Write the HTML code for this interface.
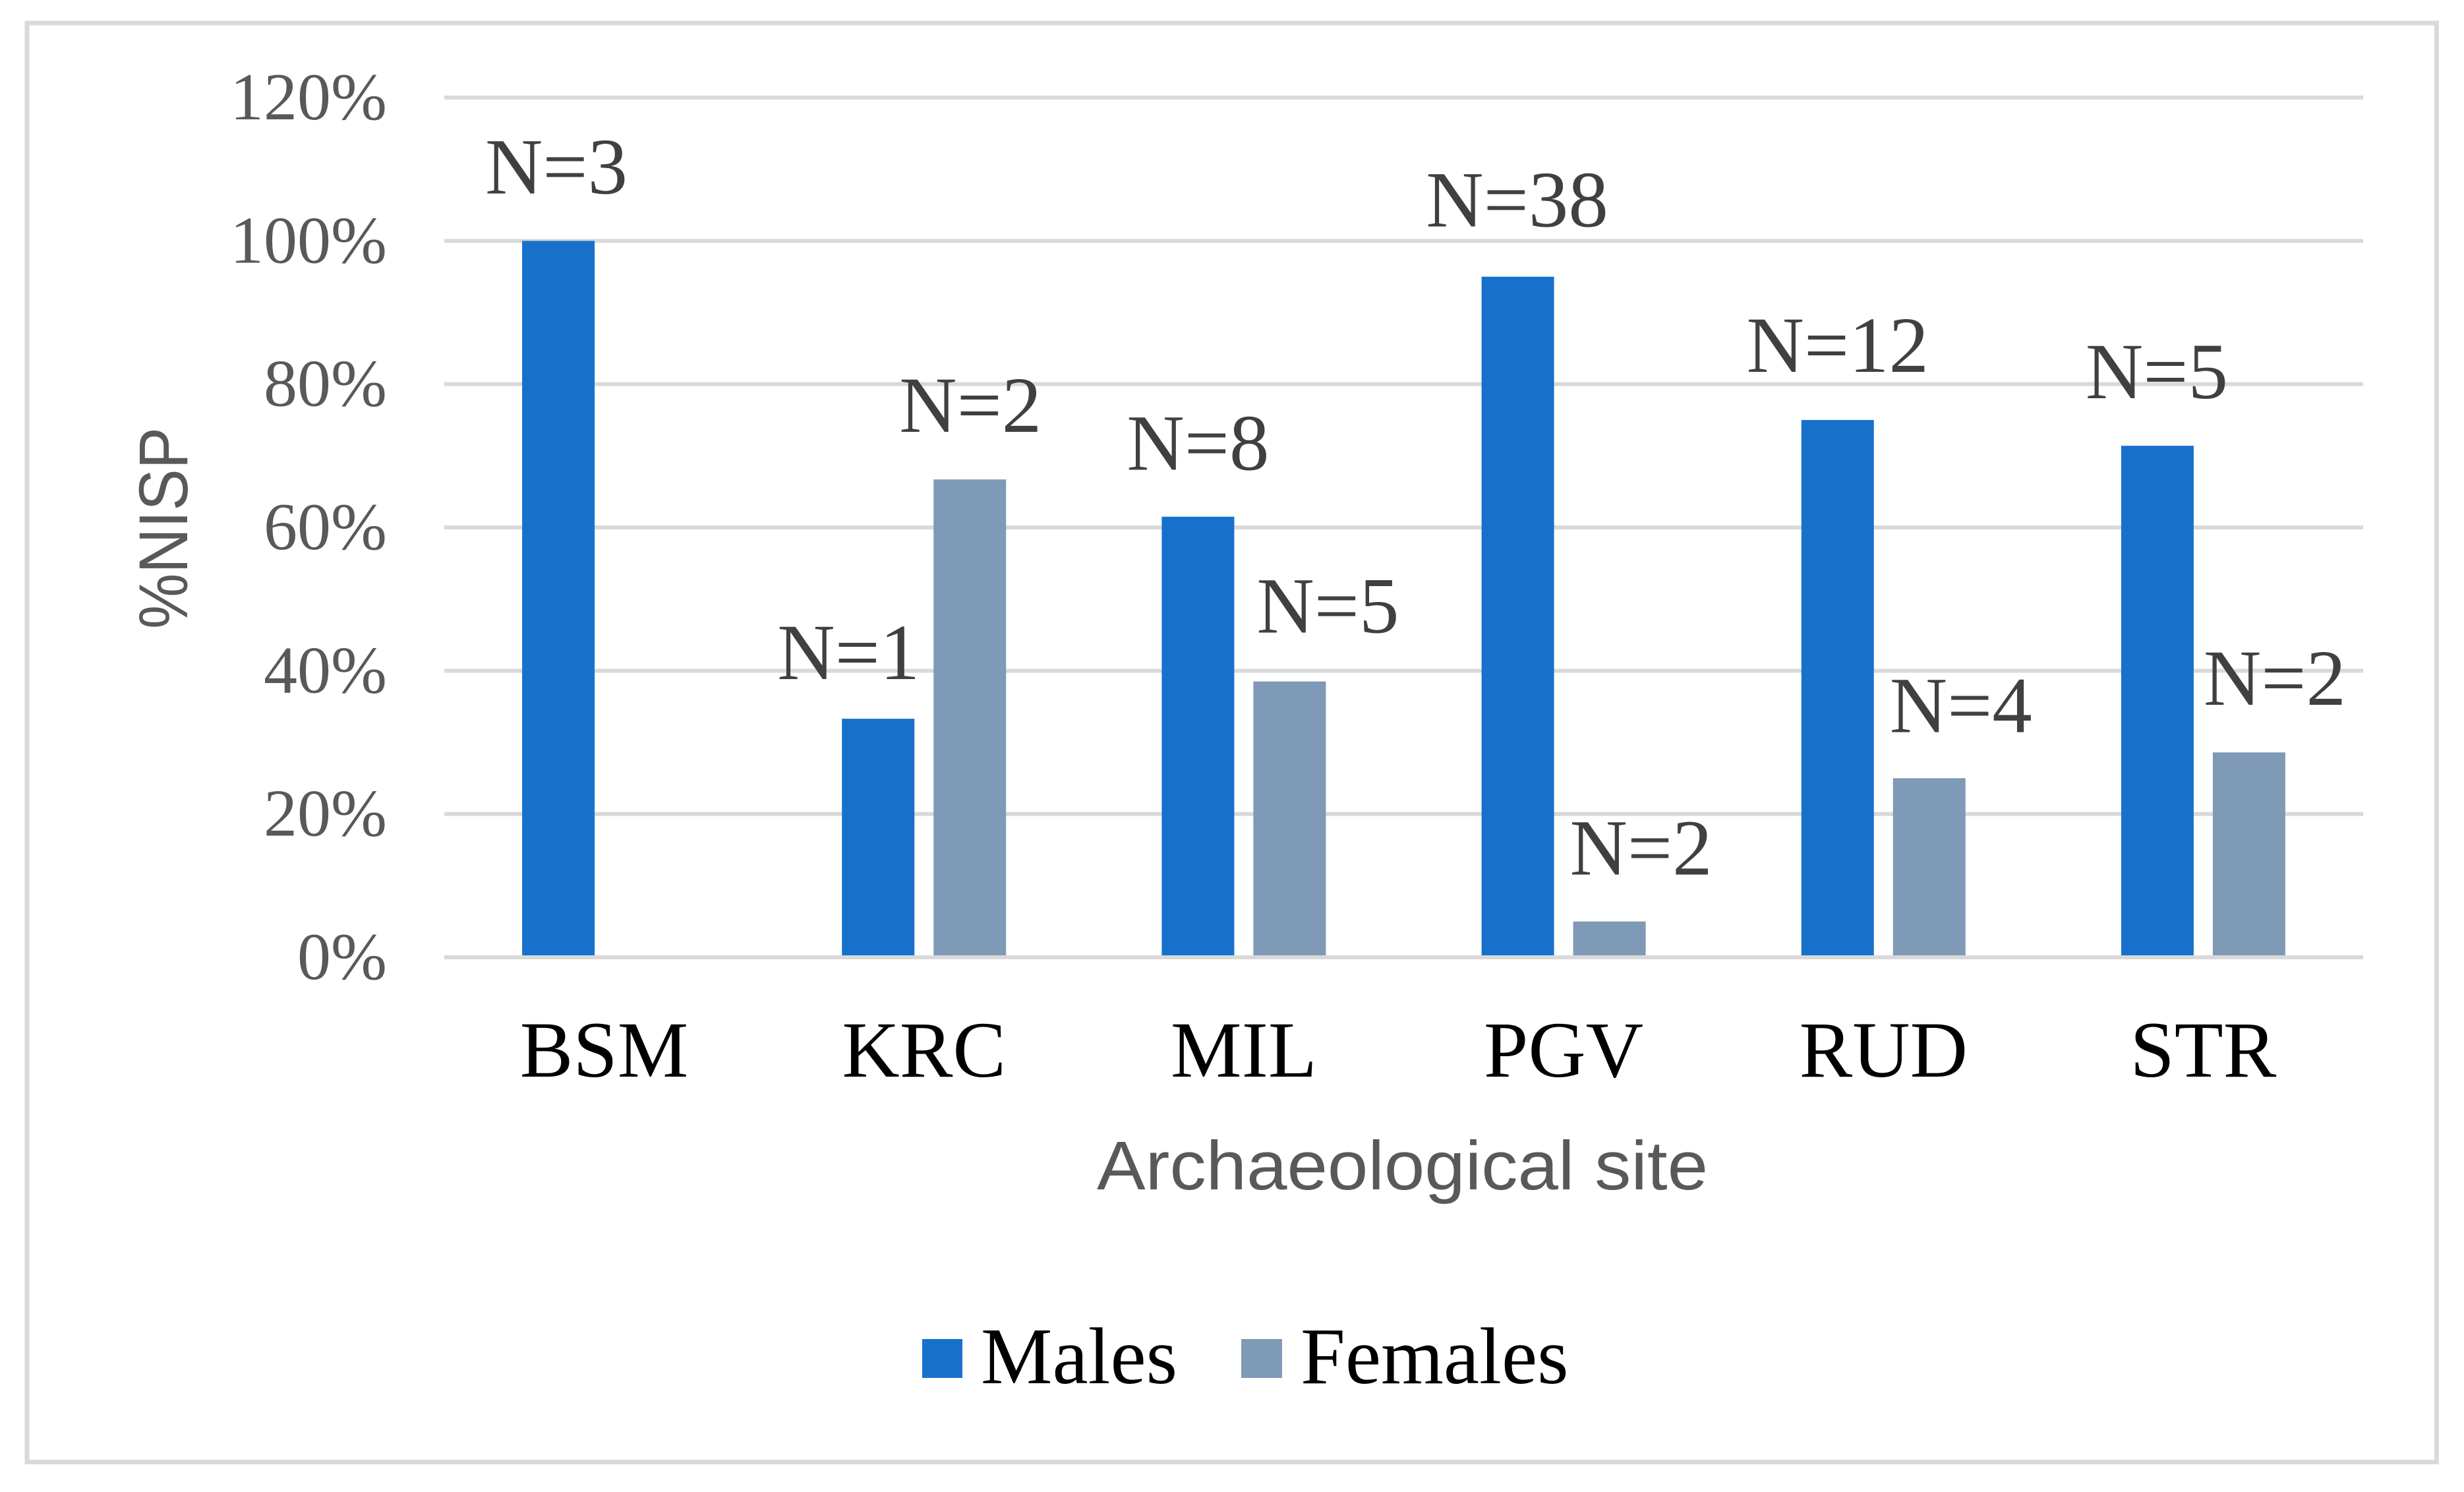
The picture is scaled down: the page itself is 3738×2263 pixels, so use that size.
<!DOCTYPE html>
<html lang="en">
<head>
<meta charset="utf-8">
<title>%NISP by archaeological site</title>
<style>
  html, body { margin: 0; padding: 0; background: #fff; }
  svg { display: block; }
</style>
</head>
<body>
<svg id="chart" xmlns="http://www.w3.org/2000/svg" width="3738" height="2263" viewBox="0 0 3738 2263">
  <rect x="0" y="0" width="3738" height="2263" fill="#ffffff"/>
  <rect x="41" y="35" width="3655.5" height="2182.5" fill="#ffffff" stroke="#d9d9d9" stroke-width="7"/>
  <g id="grid"></g>
  <g id="ticks"></g>
  <g id="bars"></g>
  <g id="cats"></g>
  <g id="notes"></g>
  <text transform="translate(284 801) rotate(-90)" text-anchor="middle" font-family="'Liberation Sans', sans-serif" font-size="105" fill="#595959" textLength="306" lengthAdjust="spacingAndGlyphs">%NISP</text>
  <text x="1664" y="1804" font-family="'Liberation Sans', sans-serif" font-size="105" fill="#595959" textLength="927" lengthAdjust="spacingAndGlyphs">Archaeological site</text>
  <g>
    <rect x="1399" y="2031" width="61" height="59" fill="#1771cb"/>
    <text x="1488" y="2098" font-family="'Liberation Serif', serif" font-size="122" fill="#000000">Males</text>
    <rect x="1883" y="2031" width="62" height="59" fill="#7e9ab6"/>
    <text x="1973" y="2098" font-family="'Liberation Serif', serif" font-size="122" fill="#000000">Females</text>
  </g>
</svg>
<script>
const categories = ["BSM", "KRC", "MIL", "PGV", "RUD", "STR"];
const malesPct = [100, 33.3, 61.5, 95, 75, 71.4];
const femalesPct = [0, 66.7, 38.5, 5, 25, 28.6];
const malesN = ["N=3", "N=1", "N=8", "N=38", "N=12", "N=5"];
const femalesN = [null, "N=2", "N=5", "N=2", "N=4", "N=2"];
const tickValues = [0, 20, 40, 60, 80, 100, 120];
const tickLabels = ["0%", "20%", "40%", "60%", "80%", "100%", "120%"];

/* Layout constants: hand-placement nudges of the annotations relative to their bars */
const maleNoteNudge = [[-3, -72], [-45, -60], [0, -71], [-1, -76], [0, -73], [-1, -72]];
const femaleNoteNudge = [[0, 0], [1, -72], [58, -74], [48, -71], [48, -70], [39, -72]];

const SVG_NS = "http://www.w3.org/2000/svg";
const plotLeft = 674, plotRight = 3585, y0 = 1452, y120 = 148;
const barW = 110, barGap = 29;

function yScale(v) { return y0 - (v / 120) * (y0 - y120); }
function xBand(i) { return plotLeft + (i + 0.5) * (plotRight - plotLeft) / categories.length; }

function make(tag, parent, attrs, text) {
  const el = document.createElementNS(SVG_NS, tag);
  for (const k in attrs) el.setAttribute(k, attrs[k]);
  if (text !== undefined) el.textContent = text;
  parent.appendChild(el);
  return el;
}

const gridG = document.getElementById("grid");
const ticksG = document.getElementById("ticks");
const barsG = document.getElementById("bars");
const catsG = document.getElementById("cats");
const notesG = document.getElementById("notes");
const serif = "'Liberation Serif', serif";

tickValues.forEach(function (v, i) {
  const y = yScale(v);
  const line = make("line", gridG, { x1: plotLeft, x2: plotRight, y1: y, y2: y, stroke: "#d9d9d9", "stroke-width": 6 });
  
  
  const label = make("text", ticksG, { x: 587, y: y + 33, "text-anchor": "end", "font-family": serif, "font-size": 102, fill: "#595959" }, tickLabels[i]);
  
  
});

function drawBar(v, i, isMale) {
  if (v <= 0) return;
  const x = isMale ? xBand(i) - barGap / 2 - barW : xBand(i) + barGap / 2;
  const top = yScale(v);
  const bar = make("rect", barsG, { x: x, y: top, width: barW, height: y0 - 3 - top, fill: isMale ? "#1771cb" : "#7e9ab6" });
  
  
}

function drawNote(text, v, i, isMale) {
  if (text === null) return;
  const nudge = isMale ? maleNoteNudge[i] : femaleNoteNudge[i];
  const x = isMale ? xBand(i) - barGap / 2 - barW / 2 : xBand(i) + barGap / 2 + barW / 2;
  const note = make("text", notesG, { x: x + nudge[0], y: yScale(v) + nudge[1], "text-anchor": "middle", "font-family": serif, "font-size": 121, fill: "#404040" }, text);
  
  
}

categories.forEach(function (c, i) {
  drawBar(malesPct[i], i, true);
  drawBar(femalesPct[i], i, false);
  drawNote(malesN[i], malesPct[i], i, true);
  drawNote(femalesN[i], femalesPct[i], i, false);
  const cat = make("text", catsG, { x: xBand(i), y: 1633, "text-anchor": "middle", "font-family": serif, "font-size": 121, fill: "#000000" }, c);
  
  
});
</script>
</body>
</html>
